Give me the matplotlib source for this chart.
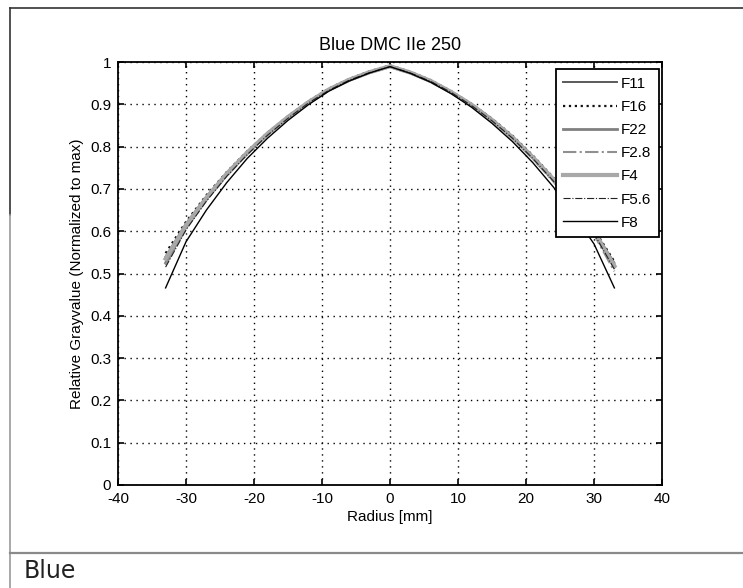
import matplotlib
matplotlib.use("Agg")
import matplotlib.pyplot as plt
from matplotlib.lines import Line2D

# radius positions [mm] and relative gray values per aperture
radius = [-33, -30, -27, -24, -21, -18, -15, -12, -9, -6, -3, 0,
          3, 6, 9, 12, 15, 18, 21, 24, 27, 30, 33]

f11 = [0.540, 0.618, 0.682, 0.738, 0.787, 0.832, 0.871, 0.906, 0.936, 0.959, 0.977, 0.991,
       0.976, 0.956, 0.930, 0.900, 0.865, 0.824, 0.777, 0.725, 0.667, 0.602, 0.525]
f16 = [0.548, 0.622, 0.685, 0.740, 0.789, 0.833, 0.872, 0.907, 0.937, 0.960, 0.978, 0.992,
       0.977, 0.957, 0.931, 0.901, 0.866, 0.826, 0.779, 0.727, 0.669, 0.605, 0.528]
f22 = [0.525, 0.610, 0.676, 0.733, 0.784, 0.829, 0.869, 0.904, 0.934, 0.957, 0.975, 0.989,
       0.974, 0.954, 0.928, 0.898, 0.862, 0.821, 0.773, 0.721, 0.662, 0.596, 0.515]
f28 = [0.520, 0.606, 0.673, 0.731, 0.782, 0.827, 0.867, 0.902, 0.933, 0.956, 0.974, 0.988,
       0.973, 0.953, 0.927, 0.896, 0.860, 0.819, 0.771, 0.718, 0.658, 0.592, 0.505]
f4 = [0.535, 0.614, 0.679, 0.736, 0.786, 0.831, 0.870, 0.905, 0.935, 0.958, 0.976, 0.990,
      0.975, 0.955, 0.929, 0.899, 0.863, 0.822, 0.775, 0.723, 0.664, 0.599, 0.518]
f56 = [0.515, 0.603, 0.671, 0.730, 0.781, 0.827, 0.867, 0.903, 0.933, 0.957, 0.975, 0.989,
       0.974, 0.954, 0.928, 0.897, 0.861, 0.820, 0.772, 0.719, 0.660, 0.594, 0.510]
f8 = [0.466, 0.575, 0.650, 0.715, 0.772, 0.820, 0.862, 0.899, 0.931, 0.955, 0.974, 0.989,
      0.973, 0.952, 0.925, 0.893, 0.855, 0.812, 0.762, 0.705, 0.640, 0.570, 0.466]

labels = ["F11", "F16", "F22", "F2.8", "F4", "F5.6", "F8"]
series = [f11, f16, f22, f28, f4, f56, f8]

# grayscale line styles like the printed matlab figure
styles = [
    dict(color="#5a5a5a", lw=1.4, ls="-"),
    dict(color="#111111", lw=1.6, ls=":"),
    dict(color="#808080", lw=2.0, ls="-"),
    dict(color="#909090", lw=1.5, ls="-."),
    dict(color="#a8a8a8", lw=3.0, ls="-"),
    dict(color="#222222", lw=0.8, ls="-."),
    dict(color="#000000", lw=1.0, ls="-"),
]

plt.rcParams["font.family"] = ["Liberation Sans", "DejaVu Sans"]
plt.rcParams["axes.unicode_minus"] = False

fig = plt.figure(figsize=(7.43, 5.88), dpi=100)
fig.patch.set_facecolor("white")

ax = fig.add_axes([118 / 743, 1 - 485 / 588, 544 / 743, 423 / 588])

for y, lab, st in zip(series, labels, styles):
    ax.plot(radius, y, label=lab, **st)

ax.set_xlim(-40, 40)
ax.set_ylim(0, 1)
ax.set_xticks(range(-40, 41, 10))
ax.set_yticks([0, 0.1, 0.2, 0.3, 0.4, 0.5, 0.6, 0.7, 0.8, 0.9, 1])
ax.set_yticklabels(["0", "0.1", "0.2", "0.3", "0.4", "0.5", "0.6", "0.7", "0.8", "0.9", "1"])
ax.grid(True, color="black", lw=1.0, ls=(0, (1, 3.3)))
ax.tick_params(direction="in", length=4, width=1.2, top=True, right=True,
               labelsize=11, pad=5)
for s in ax.spines.values():
    s.set_linewidth(1.3)

ax.set_title("Blue DMC IIe 250", fontsize=13, pad=9)
ax.set_xlabel("Radius [mm]", fontsize=11, labelpad=3)
ax.set_ylabel("Relative Grayvalue (Normalized to max)", fontsize=11, labelpad=4)

leg = ax.legend(loc="upper right", bbox_to_anchor=(0.994, 0.983), fontsize=11,
                fancybox=False, edgecolor="black", framealpha=1,
                handlelength=3.5, handletextpad=0.25, labelspacing=0.6,
                borderpad=0.5, borderaxespad=0)
leg.get_frame().set_linewidth(1.3)

# window frame around the figure
fig.add_artist(Line2D([10 / 743, 1], [1 - 8 / 588, 1 - 8 / 588],
                      transform=fig.transFigure, color="#333333", lw=1.2))
fig.add_artist(Line2D([10 / 743, 10 / 743], [1 - 8 / 588, 1 - 215 / 588],
                      transform=fig.transFigure, color="#333333", lw=1.2))
fig.add_artist(Line2D([10 / 743, 10 / 743], [1 - 215 / 588, 0],
                      transform=fig.transFigure, color="#999999", lw=1.2))
fig.add_artist(Line2D([10 / 743, 1], [1 - 553 / 588, 1 - 553 / 588],
                      transform=fig.transFigure, color="#8a8a8a", lw=1.6))
fig.text(24 / 743, 1 - 571 / 588, "Blue", fontsize=17, va="center", ha="left",
         family="DejaVu Sans", color="#222222")

fig.savefig("out.png", dpi=100)
